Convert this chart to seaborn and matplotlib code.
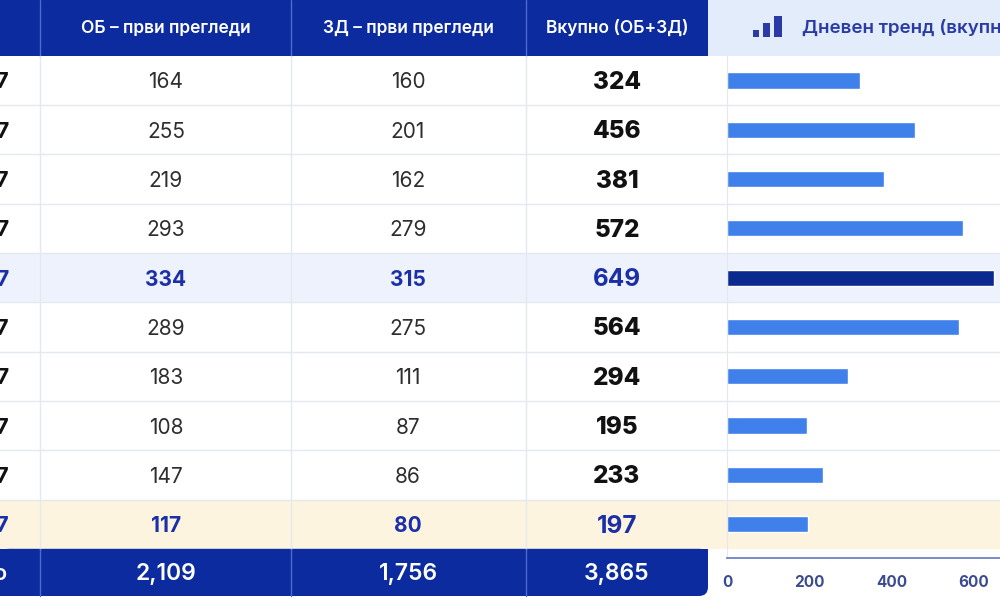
import matplotlib

matplotlib.use("agg")  # no display in the sandbox

import pandas as pd
import matplotlib.pyplot as plt
from matplotlib.patches import Rectangle, FancyBboxPatch
import seaborn as sns

# ---------------- data ----------------
days = ["01.12.2017", "02.12.2017", "03.12.2017", "04.12.2017", "05.12.2017",
        "06.12.2017", "07.12.2017", "08.12.2017", "09.12.2017", "10.12.2017"]
ob_first = [164, 255, 219, 293, 334, 289, 183, 108, 147, 117]
zd_first = [160, 201, 162, 279, 315, 275, 111, 87, 86, 80]
totals = [324, 456, 381, 572, 649, 564, 294, 195, 233, 197]
headers = ["ОБ – први прегледи", "ЗД – први прегледи", "Вкупно (ОБ+ЗД)"]
total_label = "Вкупно"
chart_title = "Дневен тренд (вкупно)"
x_ticks = [0, 200, 400, 600]

# ---------------- style ----------------
sns.set_style("white")
plt.rcParams["font.family"] = ["Inter", "DejaVu Sans"]

NAVY = "#0b2b9e"
BAR = "#3f80ea"
BAR_MAX = "#0b2a8f"
HL_BLUE = "#edf2fd"
HL_CREAM = "#fdf4e0"
TXT_BLUE = "#1a2fa8"
LINE = "#e4e8ef"

# layout in pixels (figure is 1000 x 600)
col_edges = [40, 291, 526, 708]
col_centers = [166, 408, 617]
head_h = 55.8
row_h = 49.3
dy = 2  # small downward nudge for text
n = len(days)
max_i = totals.index(max(totals))
last_i = n - 1

fig = plt.figure(figsize=(10, 6), dpi=100)
bg = fig.add_axes([0, 0, 1, 1])
bg.set_xlim(0, 1000)
bg.set_ylim(600, 0)
bg.axis("off")

# header
bg.add_patch(Rectangle((0, 0), 708, head_h, color=NAVY, lw=0))
bg.add_patch(Rectangle((708, 0), 292, head_h, color="#e3ecfb", lw=0))
for x in col_edges[:3]:
    bg.plot([x, x], [0, head_h], color="#4d6bd0", lw=1)
for cx, h in zip(col_centers, headers):
    bg.text(cx, 28, h, ha="center", va="center", color="white",
            fontsize=12.5, fontweight="semibold")

# chart header icon + title
icon_c = "#2a3ba6"
bg.add_patch(Rectangle((753, 30), 6, 7, color=icon_c, lw=0))
bg.add_patch(Rectangle((763, 23), 7, 14, color=icon_c, lw=0))
bg.add_patch(Rectangle((774, 16), 8, 21, color=icon_c, lw=0))
bg.text(802, 28, chart_title, ha="left", va="center", color=icon_c,
        fontsize=13.5, fontweight="semibold")

# data rows
for i in range(n):
    top = head_h + i * row_h
    cy = top + row_h / 2 + dy
    if i == max_i:
        bg.add_patch(Rectangle((0, top), 1000, row_h, color=HL_BLUE, lw=0))
    elif i == last_i:
        bg.add_patch(Rectangle((0, top), 1000, row_h, color=HL_CREAM, lw=0))
    hl = i in (max_i, last_i)
    c = TXT_BLUE if hl else "#2e2e2e"
    w = "bold" if hl else "normal"
    bg.text(9, cy, days[i], ha="right", va="center", fontsize=16,
            fontweight="bold", color=TXT_BLUE if hl else "#111111")
    bg.text(col_centers[0], cy, str(ob_first[i]), ha="center", va="center",
            fontsize=15, fontweight=w, color=c)
    bg.text(col_centers[1], cy, str(zd_first[i]), ha="center", va="center",
            fontsize=15, fontweight=w, color=c)
    bg.text(col_centers[2], cy, str(totals[i]), ha="center", va="center",
            fontsize=17.5, fontweight="heavy" if not hl else "bold",
            color=TXT_BLUE if hl else "#111111")

for i in range(1, n):
    y = head_h + i * row_h
    bg.plot([0, 1000], [y, y], color=LINE, lw=1)
for x in col_edges[:3]:
    bg.plot([x, x], [head_h, head_h + n * row_h], color=LINE, lw=1)

# total row (only the bottom-right corner is rounded)
t_top = head_h + n * row_h
t_bot = 596
t_h = t_bot - t_top
bg.add_patch(FancyBboxPatch((0, t_top), 708, t_h,
                            boxstyle="round,pad=0,rounding_size=9",
                            color=NAVY, lw=0))
bg.add_patch(Rectangle((0, t_top), 708, t_h - 10, color=NAVY, lw=0))
bg.add_patch(Rectangle((0, t_top), 698, t_h, color=NAVY, lw=0))
for x in col_edges[:3]:
    bg.plot([x, x], [t_top, t_bot], color="#4d6bd0", lw=1)
t_cy = (t_top + t_bot) / 2 + dy
bg.text(8, t_cy, total_label, ha="right", va="center", color="white",
        fontsize=16, fontweight="semibold")
for cx, v in zip(col_centers, [sum(ob_first), sum(zd_first), sum(totals)]):
    bg.text(cx, t_cy, f"{v:,}", ha="center", va="center", color="white",
            fontsize=16.5, fontweight="semibold")

# ---------------- bar chart ----------------
spine_y = 558
ax = fig.add_axes([0.727, 1 - spine_y / 600, 0.313, (spine_y - head_h) / 600])
ax.patch.set_alpha(0)
df = pd.DataFrame({
    "day": days,
    "total": totals,
    "kind": ["max" if i == max_i else "normal" for i in range(n)],
})
sns.barplot(data=df, x="total", y="day", hue="kind", orient="h",
            palette={"max": BAR_MAX, "normal": BAR}, dodge=False,
            width=0.33, saturation=1, legend=False, ax=ax)
ax.set_xlim(0, 760)
ax.set_ylim(-0.5 + (spine_y - head_h) / row_h, -0.5)
ax.set_xticks(x_ticks)
ax.set_yticks([])
ax.set_xlabel("")
ax.set_ylabel("")
for s in ["top", "right"]:
    ax.spines[s].set_visible(False)
ax.spines["left"].set_color(LINE)
ax.spines["bottom"].set_color("#6e80c8")
ax.spines["bottom"].set_linewidth(1.3)
ax.tick_params(axis="x", direction="out", length=7, width=1.3,
               color="#6e80c8", labelcolor="#3b4b8f", labelsize=11, pad=5)
for lab in ax.get_xticklabels():
    lab.set_fontweight("bold")

fig.savefig("out.png", dpi=100)
